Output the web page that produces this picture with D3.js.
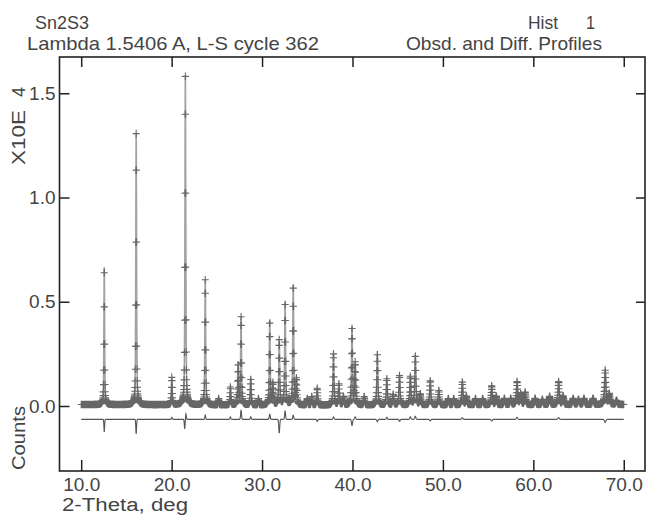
<!DOCTYPE html>
<html>
<head>
<meta charset="utf-8">
<script src="https://cdn.jsdelivr.net/npm/d3@7"></script>
<style>
  body { margin: 0; background: #fff; }
  svg { display: block; }
  text { font-family: "Liberation Sans", "DejaVu Sans", sans-serif; fill: #444; }
</style>
</head>
<body>
<div id="chart"></div>
<script>
// reflections: 2-theta (deg) and peak height (x 10^4 counts)
var peakPos = [12.55, 16.08, 20.02, 21.52, 23.72, 25.2, 26.5, 27.35, 27.68, 28.75,
  29.6, 30.85, 31.2, 31.9, 32.55, 33.45, 33.8, 35.0, 35.5, 36.1,
  37.9, 38.5, 39.0, 39.95, 40.3, 41.3, 42.75, 43.8, 44.5, 45.2,
  46.4, 46.95, 47.5, 48.6, 49.55, 50.6, 51.2, 52.15, 52.6, 53.6,
  54.4, 55.4, 55.9, 56.8, 57.5, 58.2, 58.6, 59.1, 60.2, 61.0,
  61.8, 62.8, 63.3, 64.4, 65.0, 65.6, 66.6, 67.95, 68.4, 69.2];
var peakHeight = [0.66, 1.30, 0.13, 1.575, 0.60, 0.03, 0.085, 0.19, 0.42, 0.125,
  0.03, 0.40, 0.10, 0.31, 0.49, 0.57, 0.12, 0.03, 0.04, 0.08,
  0.245, 0.10, 0.04, 0.37, 0.20, 0.04, 0.245, 0.125, 0.05, 0.14,
  0.135, 0.235, 0.05, 0.115, 0.07, 0.03, 0.03, 0.11, 0.04, 0.03,
  0.03, 0.09, 0.04, 0.03, 0.03, 0.11, 0.05, 0.06, 0.03, 0.025,
  0.04, 0.11, 0.04, 0.03, 0.025, 0.03, 0.03, 0.165, 0.05, 0.02];

// background level
var bgPos = [10, 20, 30, 40, 50, 60, 70];
var bgVal = [0.007, 0.006, 0.004, 0.004, 0.005, 0.006, 0.007];

// difference curve: baseline offset and misfit spikes
var diffOffset = -0.064;
var diffPos = [12.55, 16.08, 20.02, 21.45, 21.58, 23.72, 26.5, 27.68, 28.75, 30.85,
  31.9, 32.55, 33.45, 36.1, 37.9, 39.95, 40.3, 42.75, 43.8, 45.2,
  46.4, 46.95, 48.6, 52.15, 55.4, 58.2, 62.8, 67.95];
var diffAmp = [-0.06, -0.07, 0.01, -0.045, 0.027, 0.02, 0.012, 0.045, 0.012, 0.025,
  -0.066, 0.04, 0.02, -0.01, 0.012, -0.03, 0.012, -0.012, 0.01, -0.01,
  0.012, 0.015, -0.008, 0.008, -0.008, 0.01, 0.008, -0.015];

var xTicks = [10, 20, 30, 40, 50, 60, 70];
var yTicks = [0.0, 0.5, 1.0, 1.5];
var stepStart = 10.0, stepEnd = 70.0, stepSize = 0.02;

var W = 646, H = 516;
var frame = {left: 59.5, right: 645, top: 57, bottom: 471};

var x = d3.scaleLinear().domain([7.6, 72.35]).range([frame.left, frame.right]);
var y = d3.scaleLinear().domain([-0.3118, 1.674]).range([frame.bottom, frame.top]);

// peak shape (pseudo-Voigt, width growing with angle)
function fwhm(t) { return 0.07 + 0.0016 * t; }
function pv(dx, w) {
  var q = (dx / w) * (dx / w);
  return 0.6 / (1 + 4 * q) + 0.4 * Math.exp(-2.7726 * q);
}
function bg(t) {
  var i = d3.bisectRight(bgPos, t) - 1;
  i = Math.max(0, Math.min(bgPos.length - 2, i));
  var f = (t - bgPos[i]) / (bgPos[i + 1] - bgPos[i]);
  return bgVal[i] + f * (bgVal[i + 1] - bgVal[i]);
}
function profile(t) {
  var s = bg(t), w = fwhm(t);
  for (var i = 0; i < peakPos.length; i++) {
    var dx = t - peakPos[i];
    if (Math.abs(dx) < 3) s += peakHeight[i] * pv(dx, w);
  }
  return s;
}
function diff(t) {
  var s = diffOffset, w = fwhm(t);
  for (var i = 0; i < diffPos.length; i++) {
    var dx = t - diffPos[i];
    if (Math.abs(dx) < 1) s += diffAmp[i] * Math.exp(-2.7726 * (dx / w) * (dx / w));
  }
  return s;
}

var obs = d3.range(stepStart, stepEnd + 1e-9, stepSize).map(function(t) {
  return {t: t, v: profile(t), d: diff(t)};
});
var calc = d3.range(stepStart, stepEnd + 1e-9, stepSize / 4).map(function(t) {
  return {t: t, v: profile(t)};
});

var svg = d3.select("#chart").append("svg")
    .attr("width", W)
    .attr("height", H);

var line = d3.line()
    .x(function(d) { return x(d.t); })
    .y(function(d) { return y(d.v); });

// calculated profile
svg.append("path")
    .datum(calc)
    .attr("fill", "none")
    .attr("stroke", "#a2a2a2")
    .attr("stroke-width", 1.6)
    .attr("d", line);

// observed points as + marks
var hw = 3.5, hh = 3.8;
svg.append("path")
    .attr("fill", "none")
    .attr("stroke", "#666")
    .attr("stroke-width", 1.1)
    .attr("d", obs.map(function(d) {
      var px = x(d.t), py = y(d.v);
      return "M" + (px - hw) + "," + py + "h" + (2 * hw) + "M" + px + "," + (py - hh) + "v" + (2 * hh);
    }).join(""));

// difference curve
svg.append("path")
    .datum(obs)
    .attr("fill", "none")
    .attr("stroke", "#555")
    .attr("stroke-width", 1.1)
    .attr("d", d3.line()
      .x(function(d) { return x(d.t); })
      .y(function(d) { return y(d.d); }));

// axes with inward ticks
var fmt = d3.format(".1f");
var axisColor = "#222";

var gx = svg.append("g")
    .attr("transform", "translate(0," + frame.bottom + ")")
    .call(d3.axisBottom(x).tickValues(xTicks).tickFormat(fmt).tickSize(-11).tickPadding(7));
gx.selectAll("text").style("font-size", "19px").attr("fill", "#444");

svg.append("g")
    .attr("transform", "translate(0," + frame.top + ")")
    .call(d3.axisTop(x).tickValues(xTicks).tickFormat("").tickSize(-10));

var gy = svg.append("g")
    .attr("transform", "translate(" + frame.left + ",0)")
    .call(d3.axisLeft(y).tickValues(yTicks).tickFormat(fmt).tickSize(-10).tickPadding(4));
gy.selectAll("text").style("font-size", "19px").attr("fill", "#444");

svg.append("g")
    .attr("transform", "translate(" + frame.right + ",0)")
    .call(d3.axisRight(y).tickValues(yTicks).tickFormat("").tickSize(-9));

svg.selectAll(".domain").remove();
svg.selectAll(".tick line").attr("stroke", axisColor).attr("stroke-width", 1.5);

// frame
svg.append("rect")
    .attr("x", frame.left)
    .attr("y", frame.top)
    .attr("width", frame.right - frame.left)
    .attr("height", frame.bottom - frame.top)
    .attr("fill", "none")
    .attr("stroke", axisColor)
    .attr("stroke-width", 1.6);

// header texts
function label(str, px, py, len, size) {
  return svg.append("text")
      .attr("x", px)
      .attr("y", py)
      .attr("textLength", len)
      .attr("lengthAdjust", "spacingAndGlyphs")
      .style("font-size", size + "px")
      .text(str);
}
label("Sn2S3", 35, 29, 54, 19);
label("Lambda 1.5406 A, L-S cycle  362", 27, 50, 292, 19);
label("Hist", 528, 29, 30, 19);
label("1", 586, 29, 9, 19);
label("Obsd. and Diff. Profiles", 406, 50, 196, 19);
label("2-Theta, deg", 62, 511, 126, 18);

// rotated y labels
svg.append("text")
    .attr("transform", "translate(25,165) rotate(-90)")
    .attr("textLength", 55)
    .attr("lengthAdjust", "spacingAndGlyphs")
    .style("font-size", "18px")
    .text("X10E");
svg.append("text")
    .attr("transform", "translate(25,97) rotate(-90)")
    .style("font-size", "18px")
    .text("4");
svg.append("text")
    .attr("transform", "translate(25,470) rotate(-90)")
    .attr("textLength", 64)
    .attr("lengthAdjust", "spacingAndGlyphs")
    .style("font-size", "18px")
    .text("Counts");
</script>
</body>
</html>
